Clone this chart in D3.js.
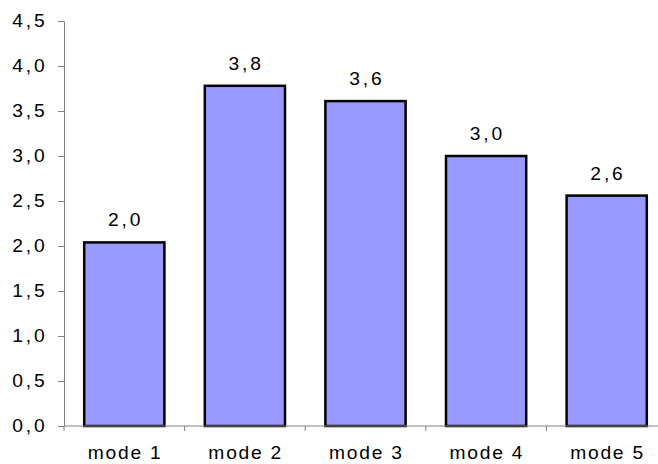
<!DOCTYPE html>
<html>
<head>
<meta charset="utf-8">
<script src="https://cdn.jsdelivr.net/npm/d3@7"></script>
<style>
  body { margin: 0; background: #fff; }
  text { font-family: Arial, "Liberation Sans", sans-serif; fill: #000; }
</style>
</head>
<body>
<div id="chart"></div>
<script>
// Chart data
const categories = ["mode 1", "mode 2", "mode 3", "mode 4", "mode 5"];
const values = [2.04, 3.78, 3.61, 3.0, 2.56];
const yTicks = [0, 0.5, 1, 1.5, 2, 2.5, 3, 3.5, 4, 4.5];

const width = 658;
const height = 464;
const margin = { top: 21, left: 64, bottom: 38 };
const bandWidth = 120.6;
const stretch = 1.1; // text in the original is a bit wide
const numSpacing = 2.6;
const catSpacing = 1.6;
const fontSize = "17.5px";

const fmt = v => d3.format(".1f")(v).replace(".", ",");

const svg = d3.select("#chart")
    .append("svg")
    .attr("width", width)
    .attr("height", height);

// Scales
const x = d3.scaleBand()
    .domain(categories)
    .range([margin.left, margin.left + bandWidth * categories.length])
    .paddingInner(0.335)
    .paddingOuter(0.1675);

const y = d3.scaleLinear()
    .domain([0, 4.5])
    .range([height - margin.bottom, margin.top]);

// Y axis
const yAxis = svg.append("g")
    .attr("transform", `translate(${margin.left},0)`)
    .call(d3.axisLeft(y).tickValues(yTicks).tickFormat(fmt).tickSize(6).tickSizeOuter(0));
yAxis.select(".domain").attr("stroke", "#808080");
yAxis.selectAll(".tick line").attr("stroke", "#808080");
yAxis.selectAll(".tick text")
    .attr("x", -(19 - numSpacing) / stretch)
    .attr("transform", `scale(${stretch},1)`)
    .style("letter-spacing", numSpacing + "px")
    .style("font-size", fontSize);

// Bars
svg.selectAll("rect.bar")
    .data(values)
    .enter()
    .append("rect")
    .attr("class", "bar")
    .attr("x", (d, i) => x(categories[i]))
    .attr("y", d => y(d))
    .attr("width", x.bandwidth())
    .attr("height", d => y(0) - y(d))
    .attr("fill", "#9999ff")
    .attr("stroke", "#000")
    .attr("stroke-width", 2.5);

// X axis with ticks at category boundaries
const x0 = y(0);
const boundaries = d3.range(categories.length + 1).map(i => margin.left + i * bandWidth);
svg.append("line")
    .attr("x1", margin.left).attr("x2", boundaries[boundaries.length - 1])
    .attr("y1", x0).attr("y2", x0)
    .attr("stroke", "#808080");
svg.selectAll("line.xtick")
    .data(boundaries)
    .enter()
    .append("line")
    .attr("class", "xtick")
    .attr("x1", d => d).attr("x2", d => d)
    .attr("y1", x0).attr("y2", x0 + 5)
    .attr("stroke", "#808080");

// Category labels
svg.selectAll("text.cat")
    .data(categories)
    .enter()
    .append("text")
    .attr("class", "cat")
    .attr("transform", d => `translate(${x(d) + x.bandwidth() / 2 + catSpacing / 2},${x0 + 33}) scale(${stretch},1)`)
    .attr("text-anchor", "middle")
    .style("letter-spacing", catSpacing + "px")
    .style("font-size", fontSize)
    .text(d => d);

// Value labels
svg.selectAll("text.val")
    .data(values)
    .enter()
    .append("text")
    .attr("class", "val")
    .attr("transform", (d, i) => `translate(${x(categories[i]) + x.bandwidth() / 2 + numSpacing / 2},${y(d) - 16}) scale(${stretch},1)`)
    .attr("text-anchor", "middle")
    .style("letter-spacing", numSpacing + "px")
    .style("font-size", fontSize)
    .text(d => fmt(d));
</script>
</body>
</html>
